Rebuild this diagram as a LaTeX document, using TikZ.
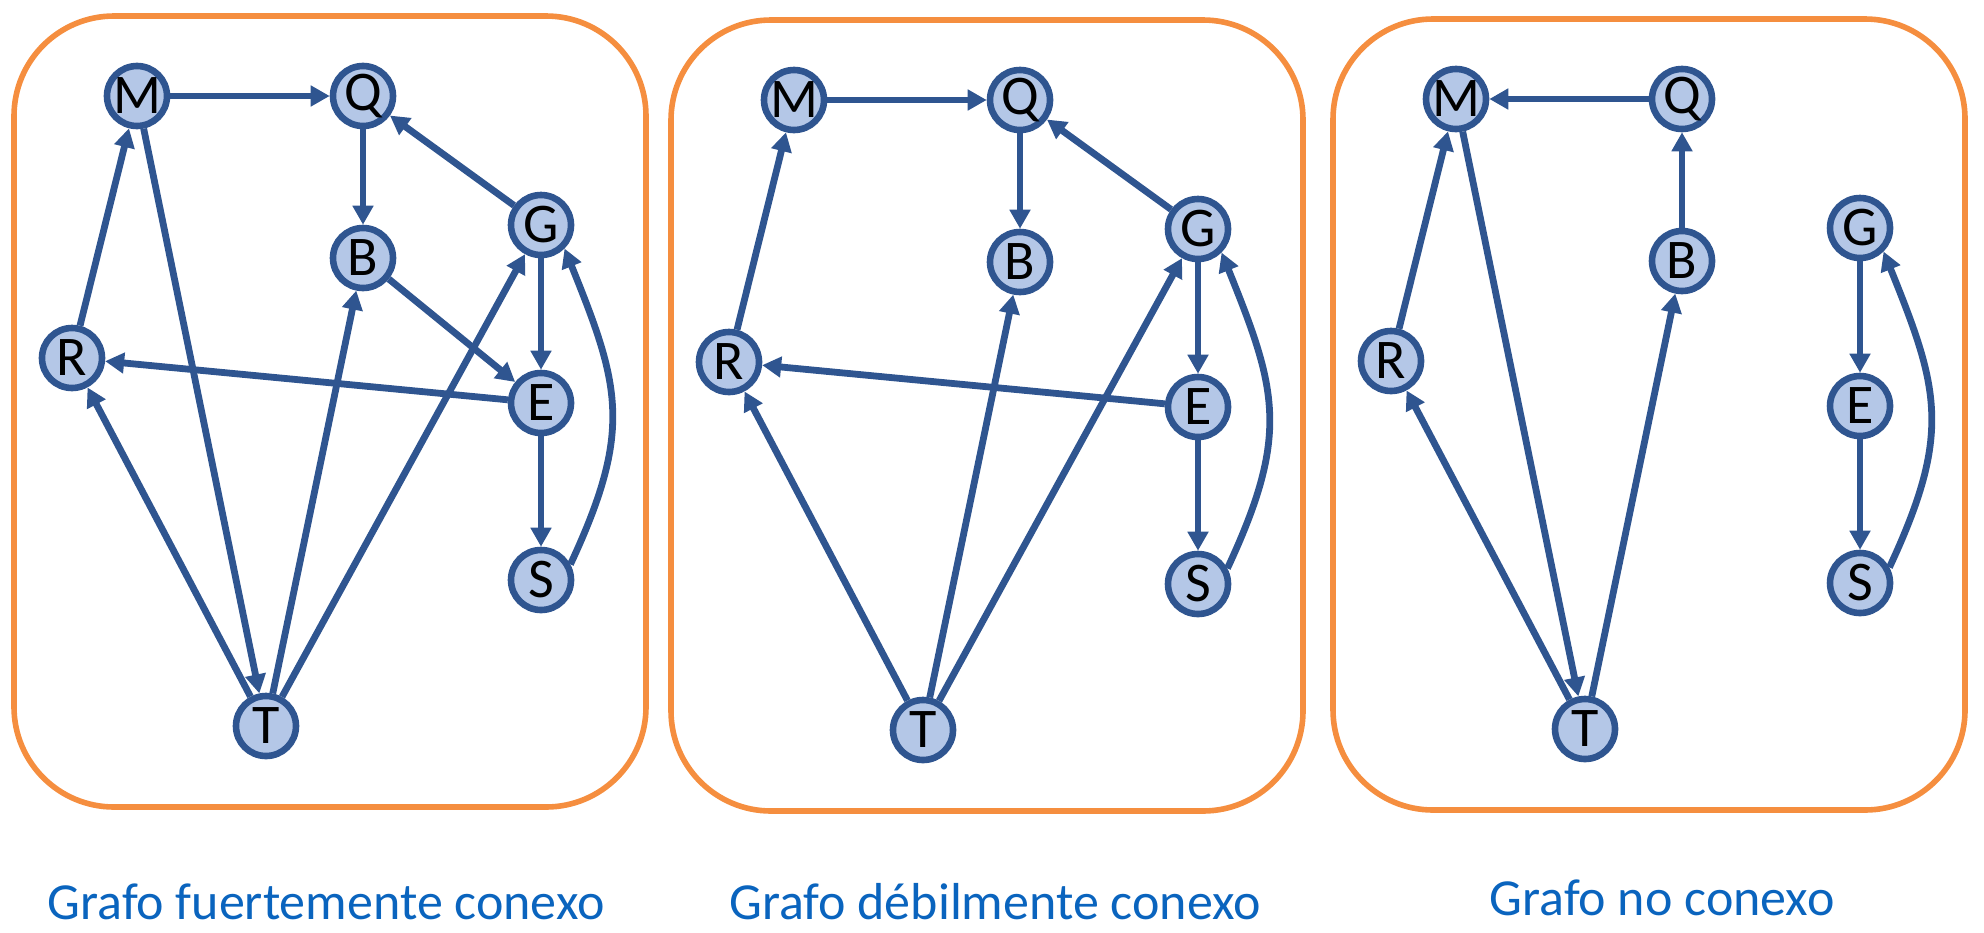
\documentclass[tikz,border=0pt]{standalone}
\usepackage{fontspec}
\setmainfont{Carlito}
\usetikzlibrary{arrows.meta,positioning}

\definecolor{nodefill}{HTML}{B4C7E7}
\definecolor{edgeblue}{HTML}{2F5590}
\definecolor{boxorange}{HTML}{F58E3F}
\definecolor{captionblue}{HTML}{0A64BE}

\begin{document}
\begin{tikzpicture}[on grid,
    vertex/.style={circle,draw=edgeblue,fill=nodefill,line width=3.3pt,minimum size=30pt,inner sep=0pt,font=\fontsize{28}{32}\selectfont},
    panel/.style={draw=boxorange,line width=2.8pt,rounded corners=50pt},
    caption/.style={text=captionblue,font=\fontsize{26}{30}\selectfont},
    arc/.style={->,>={Triangle[length=9.5pt,width=10pt]},color=edgeblue,line width=3.4pt}]
  \useasboundingbox (0,0) rectangle (992pt,-466pt);
  % same nodes in all three panels
  \foreach \p/\dx/\dy in {a/0/0,b/328.5/-2,c/659.5/-1.5} {
    \begin{scope}[shift={(\dx pt,\dy pt)}]
      \draw[panel] (7pt,-8pt) rectangle (323pt,-403.5pt);
      \node[vertex] (\p M) at (68.5pt,-48pt) {M};
      \node[vertex] (\p Q) [right=113pt of \p M] {Q};
      \node[vertex] (\p B) [below=81pt of \p Q] {B};
      \node[vertex] (\p G) [above right=16.5pt and 89pt of \p B] {G};
      \node[vertex] (\p E) [below=89pt of \p G] {E};
      \node[vertex] (\p S) [below=88.5pt of \p E] {S};
      \node[vertex] (\p R) [below left=131pt and 32.5pt of \p M] {R};
      \node[vertex] (\p T) [below right=315pt and 64.5pt of \p M] {T};
    \end{scope}
  }
  \node[caption] (acap) at (163pt,-451pt) {Grafo fuertemente conexo};
  \node[caption] (bcap) at (497.5pt,-451pt) {Grafo débilmente conexo};
  \node[caption] (ccap) at (831pt,-449pt) {Grafo no conexo};
  % fuertemente conexo
  \path[arc]
    (aM) edge (aQ)
    (aQ) edge (aB)
    (aG) edge (aQ)
    (aG) edge (aE)
    (aB) edge (aE)
    (aE) edge (aR)
    (aR) edge (aM)
    (aM) edge (aT)
    (aT) edge (aR)
    (aT) edge (aB)
    (aT) edge (aG)
    (aE) edge (aS)
    (aS.28) edge [out=65,in=-68,looseness=1.2] (aG.-45);
  % debilmente conexo
  \path[arc]
    (bM) edge (bQ)
    (bQ) edge (bB)
    (bG) edge (bQ)
    (bG) edge (bE)
    (bE) edge (bR)
    (bR) edge (bM)
    (bT) edge (bR)
    (bT) edge (bB)
    (bT) edge (bG)
    (bE) edge (bS)
    (bS.28) edge [out=65,in=-68,looseness=1.2] (bG.-45);
  % no conexo
  \path[arc]
    (cQ) edge (cM)
    (cB) edge (cQ)
    (cR) edge (cM)
    (cM) edge (cT)
    (cT) edge (cR)
    (cT) edge (cB)
    (cG) edge (cE)
    (cE) edge (cS)
    (cS.28) edge [out=65,in=-68,looseness=1.2] (cG.-45);
\end{tikzpicture}
\end{document}
